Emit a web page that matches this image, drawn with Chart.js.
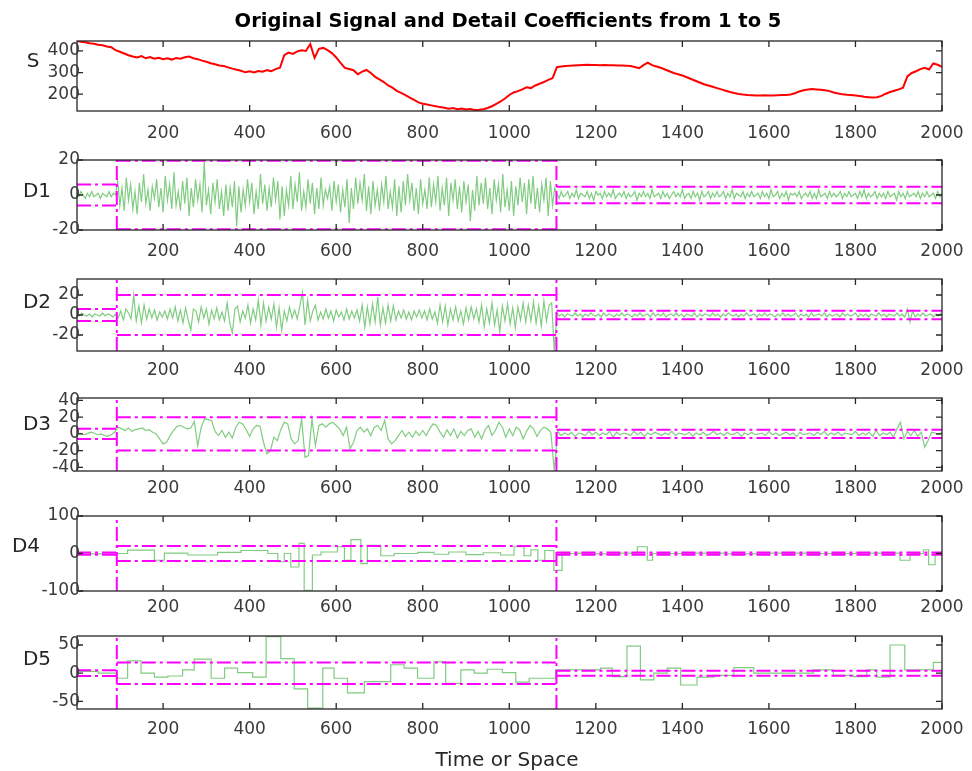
<!DOCTYPE html>
<html>
<head>
<meta charset="utf-8">
<script src="https://cdn.jsdelivr.net/npm/chart.js@4"></script>
<style>
  body { margin: 0; background: #fff; }
  #wrap { position: relative; width: 972px; height: 771px; background: #fff; }
  #wrap canvas { position: absolute; left: 0; top: 0; pointer-events: none; }
</style>
</head>
<body>
<div id="wrap"></div>
<script>
// x ticks shared by every panel
const xTicks = [200, 400, 600, 800, 1000, 1200, 1400, 1600, 1800, 2000];
// interval limits used for the thresholds
const bounds = [1, 93, 1109, 2000];

// original signal, one value every 10 samples
const sStep = 10;
const sValues = [
  446,442,440,436,433,429,426,421,417,404,
  396,388,380,374,370,376,366,372,364,368,
  362,366,360,367,364,371,374,366,362,355,
  350,343,338,333,330,324,318,313,308,301,
  306,300,307,304,311,306,316,322,380,392,
  386,398,403,400,432,368,410,414,404,390,
  370,345,322,316,311,292,304,312,298,280,
  268,256,240,230,215,206,195,184,173,162,
  156,152,148,144,140,137,133,136,130,134,
  129,131,127,128,130,136,144,155,166,180,
  196,208,214,222,232,228,240,248,256,266,
  274,325,328,330,332,333,334,335,336,335,
  335,334,335,334,334,333,333,332,330,326,
  320,334,346,334,328,322,314,306,298,292,
  286,278,270,262,254,246,240,234,228,222,
  216,210,205,201,198,196,195,194,194,195,
  194,194,195,196,196,198,204,212,218,222,
  224,222,220,218,214,208,203,199,197,196,
  194,191,188,186,184,186,192,202,210,216,
  222,230,282,298,306,316,322,314,342,336,
  326
];

// detail D1, one value every 5 samples
const d1Step = 5;
const d1Values = [
  1,-1,2,0,-2,1,-1,2,-1,0,1,-2,1,0,-1,2,-1,1,0,
  8,-6,4,-9,10,-3,6,-8,2,-11,
  7,-4,12,-5,3,-9,5,-2,9,-7,
  4,-10,11,-3,6,-8,13,-6,2,-9,
  8,-5,10,-12,4,-7,9,-3,6,-10,
  19,-6,3,-11,7,-4,9,-8,2,-12,
  6,-9,4,-7,8,-18,5,-10,3,-6,
  9,-4,7,-11,2,-8,12,-5,6,-9,
  4,-7,10,-3,8,-14,5,-12,3,-6,
  11,-8,6,-4,13,-9,2,-7,9,-5,
  7,-11,4,-8,10,-6,3,-2,5,-9,
  8,-4,6,-10,3,-7,9,-16,4,-8,
  10,-5,7,-3,12,-9,5,-11,8,-6,
  3,-9,6,-4,11,-8,2,-7,9,-12,
  5,-10,8,-6,12,-3,7,-9,4,-11,
  9,-5,3,-8,10,-7,6,-4,11,-9,
  4,-6,10,-12,7,-3,9,-8,5,-10,
  8,-4,6,-15,3,-9,11,-6,7,-5,
  10,-8,4,-11,9,-3,6,-10,12,-7,
  3,-9,8,-12,5,-6,10,-4,7,-11,
  9,-5,11,-8,4,-10,6,-3,10,-12,
  8,-6,4,
  1,-2,2,-1,0,2,-2,1,-1,3,
  -2,1,0,-1,2,-2,1,-3,2,0,
  1,-2,2,-1,1,-1,3,-2,0,1,
  -1,2,-2,1,-1,0,2,-3,1,-1,
  2,-1,1,-2,3,-1,0,1,-2,2,
  -1,1,-2,0,2,-1,1,-1,3,-2,
  0,1,-2,2,-1,1,-3,2,-1,0,
  2,-2,1,-1,2,-1,0,2,-2,1,
  -1,3,-2,1,0,-1,2,-2,1,-1,
  2,-1,0,1,-2,2,-1,1,-2,3,
  -1,0,2,-2,1,-1,2,-3,1,0,
  1,-1,2,-2,0,1,-1,2,-2,1,
  -2,3,-1,0,1,-2,2,-1,1,-1,
  0,2,-2,1,-1,2,-1,0,1,-2,
  2,-1,3,-2,1,-1,0,2,-2,1,
  -1,1,-2,2,-1,0,1,-3,2,-1,
  1,-2,2,-1,0,1,-1,2,-2,1,
  -1,2,-1,0,1,-2,2,-1,1
];

// detail D2, one value every 6 samples
const d2Step = 6;
const d2Values = [
  1,-1,2,0,-1,1,-2,1,0,-1,2,-1,1,0,-2,1,
  -3,4,-5,6,2,-4,20,-6,9,-8,
  10,-4,6,-3,5,-5,3,-2,4,-4,
  6,-3,8,-6,5,-8,7,-5,-15,6,
  4,-7,8,-3,6,-9,5,-4,7,-5,
  3,-6,12,-8,-18,6,9,-7,4,-3,
  10,-8,6,-5,15,-10,12,-6,8,-4,
  11,-12,7,-15,4,-6,8,-3,5,-4,
  9,23,-10,15,-6,4,10,-5,3,-4,
  6,-3,4,-6,5,-2,3,-5,6,-4,
  4,-3,5,-6,10,-12,8,-9,11,-7,
  18,-10,7,-8,10,-6,9,-5,4,-3,
  5,-4,3,-5,4,-2,5,-3,4,-5,
  6,-4,3,-8,10,-7,9,-10,6,-5,
  8,-6,4,-9,7,-5,8,-4,6,-7,
  10,-12,6,-8,12,-10,5,-17,9,-6,
  11,-9,7,-13,8,-5,12,-7,10,-6,
  13,-8,9,-11,14,-6,10,12,-36,
  2,-1,1,-2,1,0,-1,2,-1,1,
  -2,1,-1,2,0,-1,1,-2,2,-1,
  1,0,-2,1,-1,2,-1,1,0,-2,
  1,-1,2,-1,0,1,-2,2,-1,1,
  -1,2,-2,0,1,-1,2,-1,1,-2,
  1,0,-1,2,-2,1,-1,1,0,-1,
  2,-1,1,-2,1,-1,2,0,-1,1,
  -2,1,-1,2,-1,0,1,-2,1,-1,
  2,-1,1,0,-2,1,-1,2,-1,1,
  -1,0,2,-2,1,-1,1,-2,2,-1,
  0,1,-1,2,-2,1,-1,0,1,-2,
  2,-1,1,-1,0,2,-2,1,-1,1,
  -2,1,0,-1,2,-1,1,-2,1,0,
  -1,2,-1,1,-2,6,-7,4,-2,1,
  -1,2,-1,0,1,-2,1,-1,2
];

// detail D3, one value every 8 samples
const d3Step = 8;
const d3Values = [
  0,1,-1,0,2,1,-1,0,-2,-3,-1,2,
  8,6,4,7,3,5,6,7,4,5,
  2,0,-6,-12,-10,-2,4,9,10,8,
  6,7,15,-14,8,18,17,16,3,-2,
  4,-4,2,-5,8,14,12,5,-3,6,
  10,9,-10,-24,-20,-4,-8,5,14,12,
  -6,-12,-8,18,-28,-26,18,-14,10,12,
  8,12,14,10,6,-2,8,-18,-10,4,
  8,2,6,-2,8,10,4,16,-6,-12,
  -8,-2,4,-3,2,-4,3,-2,4,-2,
  6,12,10,2,-4,5,-2,6,-5,3,
  -2,4,6,-4,3,-6,5,10,-2,4,
  14,8,-4,6,-2,8,5,-6,3,10,
  6,-3,4,8,6,2,-44,
  3,-2,1,-1,2,-3,1,0,-2,3,
  -1,2,-2,1,-1,3,-4,2,-1,1,
  0,-2,3,-1,2,-3,1,-1,2,0,
  -2,1,-1,3,-2,1,0,-1,2,-3,
  1,-1,2,-2,0,3,-1,1,-2,2,
  -1,0,2,-3,1,-1,2,-1,0,1,
  -2,3,-1,1,-2,0,2,-1,1,-3,
  2,-1,0,1,-2,2,-1,3,-2,1,
  -1,2,-2,1,0,-1,3,-2,1,-1,
  2,-3,4,-2,1,-1,2,-4,6,14,
  -6,3,-2,4,-3,2,-16,-8,2,1,
  -1,2
];

// detail D4, piecewise constant: block start and value
const d4X = [0,32,64,93,118,180,203,257,326,380,442,465,480,495,514,526,545,565,603,619,634,657,672,703,734,788,826,860,900,940,980,1011,1034,1050,1066,1082,1103,1122,1160,1200,1250,1296,1319,1331,1400,1500,1600,1700,1800,1903,1926,1957,1969,1984,2000];
const d4Y = [2,-1,2,0,9,-18,1,-4,3,8,0,-22,0,-36,27,-98,-4,4,18,-18,37,-27,22,-6,0,3,-2,4,-3,2,-4,18,-6,10,-18,8,-45,0,1,-1,1,18,-18,0,1,-1,1,0,1,-18,0,10,-30,0,0];

// detail D5, piecewise constant: block start and value
const d5X = [0,50,93,118,149,180,211,245,272,311,342,372,407,438,472,503,534,569,595,626,665,726,757,788,826,853,888,919,949,984,1015,1046,1107,1211,1238,1272,1303,1334,1365,1396,1434,1473,1519,1565,1703,1749,1795,1826,1849,1880,1914,1980,2000];
const d5Y = [3,0,-9,22,0,-7,-5,6,25,-9,9,1,-7,65,26,-28,-62,9,-9,-35,-15,15,9,-9,20,-18,6,0,7,1,-16,-9,6,9,-6,48,-12,0,9,-21,-7,-4,10,0,6,-4,-6,6,-7,50,6,19,19];

// thresholds for the three intervals
const thrD1 = [6, 19.6, 4.7];
const thrD2 = [6, 20, 4.2];
const thrD3 = [6, 20, 5];
const thrD4 = [3, 20, 3];
const thrD5 = [5, 19, 4.5];

// y tick labels
const sTicks = [200, 300, 400];
const d1Ticks = [-20, 0, 20];
const d2Ticks = [-20, 0, 20];
const d3Ticks = [-40, -20, 0, 20, 40];
const d4Ticks = [-100, 0, 100];
const d5Ticks = [-50, 0, 50];

const W = 972, H = 771, AXIS_H = 36, TL = 6;
const FONT = '"DejaVu Sans", sans-serif';
Chart.defaults.font.family = FONT;

const uniform = (vals, step) => vals.map((v, i) => ({ x: i * step, y: v }));
const steps = (xs, ys) => xs.map((x, i) => ({ x: x, y: ys[i] }));

function thrLines(thr) {
  const pts = [];
  thr.forEach((t, k) => {
    pts.push({ x: bounds[k], y: t }, { x: bounds[k + 1], y: t }, { x: bounds[k + 1], y: null });
    pts.push({ x: bounds[k], y: -t }, { x: bounds[k + 1], y: -t }, { x: bounds[k + 1], y: null });
  });
  return pts;
}
function vLines(lo, hi) {
  return [{ x: bounds[1], y: lo }, { x: bounds[1], y: hi }, { x: bounds[1], y: null },
          { x: bounds[2], y: lo }, { x: bounds[2], y: hi }];
}

const panels = [
  { label: 'S', top: 41, bottom: 111, yMin: 122, yMax: 446, yTicks: sTicks, lx: 33, ly: 67, tickY: 134,
    data: uniform(sValues, sStep), color: '#ff0000', width: 2, title: true },
  { label: 'D1', top: 160, bottom: 230, yMin: -20, yMax: 20, yTicks: d1Ticks, lx: 37, ly: 197, tickY: 252,
    data: uniform(d1Values, d1Step), thr: thrD1 },
  { label: 'D2', top: 279, bottom: 351, yMin: -36, yMax: 36, yTicks: d2Ticks, lx: 37, ly: 308, tickY: 371,
    data: uniform(d2Values, d2Step), thr: thrD2 },
  { label: 'D3', top: 398, bottom: 471, yMin: -44.4, yMax: 42.9, yTicks: d3Ticks, lx: 37, ly: 430, tickY: 489,
    data: uniform(d3Values, d3Step), thr: thrD3 },
  { label: 'D4', top: 516, bottom: 591, yMin: -100, yMax: 100, yTicks: d4Ticks, lx: 26, ly: 552, tickY: 608,
    data: steps(d4X, d4Y), thr: thrD4, stepped: true },
  { label: 'D5', top: 636, bottom: 709, yMin: -63.6, yMax: 66, yTicks: d5Ticks, lx: 37, ly: 665, tickY: 730,
    data: steps(d5X, d5Y), thr: thrD5, stepped: true, xlabel: true }
];

// box, inward ticks, tick labels and texts
const frame = {
  id: 'frame',
  afterDraw(chart, args, opts) {
    const { ctx, chartArea: a } = chart;
    const x = chart.scales.x, y = chart.scales.y;
    ctx.save();
    ctx.strokeStyle = '#262626';
    ctx.lineWidth = 1.3;
    ctx.strokeRect(a.left, a.top, a.right - a.left, a.bottom - a.top);
    ctx.beginPath();
    x.ticks.forEach(t => {
      const px = x.getPixelForValue(t.value);
      ctx.moveTo(px, a.bottom); ctx.lineTo(px, a.bottom - TL);
      ctx.moveTo(px, a.top); ctx.lineTo(px, a.top + TL);
    });
    y.ticks.forEach(t => {
      const py = y.getPixelForValue(t.value);
      ctx.moveTo(a.left, py); ctx.lineTo(a.left + TL, py);
      ctx.moveTo(a.right, py); ctx.lineTo(a.right - TL, py);
    });
    ctx.stroke();

    ctx.fillStyle = '#3a3a3a';
    ctx.font = '17px ' + FONT;
    ctx.textBaseline = 'middle';
    ctx.textAlign = 'center';
    x.ticks.forEach(t => ctx.fillText(String(t.value), x.getPixelForValue(t.value), opts.tickY));
    ctx.textAlign = 'right';
    y.ticks.forEach(t => ctx.fillText(String(t.value), a.left + 3, y.getPixelForValue(t.value)));

    ctx.fillStyle = '#262626';
    ctx.textAlign = 'center';
    ctx.textBaseline = 'alphabetic';
    ctx.font = '20px ' + FONT;
    ctx.fillText(opts.label, opts.lx, opts.ly);
    if (opts.title) {
      ctx.fillStyle = '#000';
      ctx.font = 'bold 19.5px ' + FONT;
      ctx.fillText('Original Signal and Detail Coefficients from 1 to 5', 508, 27);
    }
    if (opts.xlabel) {
      ctx.fillStyle = '#262626';
      ctx.font = '20px ' + FONT;
      ctx.fillText('Time or Space', 507, 766);
    }
    ctx.restore();
  }
};

const wrap = document.getElementById('wrap');
panels.forEach(p => {
  const cv = document.createElement('canvas');
  cv.width = W; cv.height = H;
  wrap.appendChild(cv);

  const datasets = [];
  if (p.thr) {
    const dash = { borderColor: '#ff00ff', borderWidth: 2, borderDash: [14, 4, 3, 4], order: 0, spanGaps: false };
    datasets.push(Object.assign({ data: thrLines(p.thr) }, dash));
    datasets.push(Object.assign({ data: vLines(p.yMin, p.yMax) }, dash));
  }
  datasets.push({
    data: p.data,
    borderColor: p.color || '#80cc80',
    borderWidth: p.width || 1.2,
    stepped: p.stepped || false,
    order: 1
  });

  new Chart(cv, {
    type: 'line',
    data: { datasets: datasets },
    plugins: [frame],
    options: {
      responsive: false,
      animation: false,
      events: [],
      layout: { padding: { left: 0, right: W - 942, top: p.top, bottom: H - p.bottom - AXIS_H } },
      elements: { point: { radius: 0 }, line: { tension: 0 } },
      plugins: {
        legend: { display: false },
        tooltip: { enabled: false },
        frame: { label: p.label, lx: p.lx, ly: p.ly, tickY: p.tickY, title: p.title, xlabel: p.xlabel }
      },
      scales: {
        x: {
          type: 'linear', min: 1, max: 2000,
          grid: { display: false, drawTicks: false }, border: { display: false },
          afterBuildTicks: s => { s.ticks = xTicks.map(v => ({ value: v })); },
          afterFit: s => { s.height = AXIS_H; },
          ticks: { display: false }
        },
        y: {
          type: 'linear', min: p.yMin, max: p.yMax,
          grid: { display: false, drawTicks: false }, border: { display: false },
          afterBuildTicks: s => { s.ticks = p.yTicks.map(v => ({ value: v })); },
          afterFit: s => { s.width = 77; },
          ticks: { display: false }
        }
      }
    }
  });
});
</script>
</body>
</html>
